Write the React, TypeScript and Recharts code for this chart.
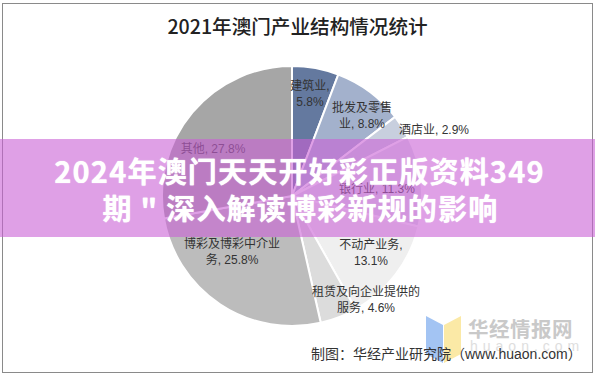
import { Cell, Pie, PieChart } from "recharts";

const INDUSTRIES = ["建筑业", "批发及零售业", "酒店业", "银行业", "不动产业务", "租赁及向企业提供的服务", "博彩及博彩中介业务", "其他"];
const SHARES = [5.8, 8.8, 2.9, 11.3, 13.1, 4.6, 25.8, 27.8];
const LABEL_LINES = [
  ["建筑业,", "5.8%"],
  ["批发及零售", "业, 8.8%"],
  ["酒店业, 2.9%"],
  ["银行业, 11.3%"],
  ["不动产业务,", "13.1%"],
  ["租赁及向企业提供的", "服务, 4.6%"],
  ["博彩及博彩中介业", "务, 25.8%"],
  ["其他, 27.8%"],
];

const COLORS = ["#64799f", "#a3b1cc", "#c8cfde", "#dfe2ea", "#efefef", "#dcdcdc", "#bcbcbc", "#a6a6a6"];
// label centres relative to the pie centre
const LABEL_OFFSETS = [
  [18, -110],
  [70, -88],
  [142, -66],
  [85, -7],
  [79, 49],
  [74, 96],
  [-60, 48],
  [-79, -47],
];

const CX = 292;
const CY = 196;
const FONT = '"Liberation Sans", "Noto Sans CJK SC", sans-serif';
const CJK = '"Noto Sans CJK SC", sans-serif';

const data = INDUSTRIES.map((name, i) => ({ name, value: SHARES[i] }));

function renderLabel(props: any) {
  const { index, cx, cy } = props;
  const [dx, dy] = LABEL_OFFSETS[index];
  const lines = LABEL_LINES[index];
  return (
    <text x={cx + dx} y={cy + dy} textAnchor="middle" fontFamily={FONT} fontSize={12} fill="#333">
      {lines.map((line, i) => (
        <tspan key={i} x={cx + dx} y={cy + dy + i * 15.5} dominantBaseline="central">
          {line}
        </tspan>
      ))}
    </text>
  );
}

export default function App() {
  return (
    <div style={{ position: "absolute", left: 0, top: 0, width: 595, height: 376, background: "#fff", overflow: "hidden" }}>
      <div style={{ position: "absolute", left: 2, top: 3, width: 589, height: 368, border: "1px solid #8a8a8a", boxSizing: "content-box" }} />
      <div style={{ position: "absolute", left: 0, top: 13, width: 595, textAlign: "center", fontFamily: CJK, fontWeight: 500, fontSize: 19.6, lineHeight: "26px", color: "#222" }}>
        2021年澳门产业结构情况统计
      </div>
      <div style={{ position: "absolute", left: 0, top: 0 }}>
        <PieChart width={595} height={376} margin={{ top: 0, right: 0, bottom: 0, left: 0 }}>
          <Pie
            data={data}
            dataKey="value"
            nameKey="name"
            cx={CX}
            cy={CY}
            outerRadius={130}
            startAngle={90}
            endAngle={-270}
            stroke="#fff"
            strokeWidth={2}
            label={renderLabel}
            labelLine={false}
            isAnimationActive={false}
          >
            {data.map((_, i) => (
              <Cell key={i} fill={COLORS[i]} />
            ))}
          </Pie>
        </PieChart>
      </div>
      <svg style={{ position: "absolute", left: 420, top: 310 }} width={60} height={60}>
        <polygon points="6,6 23,15 23,53 6,44" fill="#a3c4f3" />
        <polygon points="24,15 41,6 41,44 24,53" fill="#fbe9a6" />
      </svg>
      <div style={{ position: "absolute", left: 468, top: 314, fontFamily: CJK, fontWeight: 700, fontSize: 20.5, lineHeight: "28px", color: "#c9c9c9", letterSpacing: 0.5 }}>
        华经情报网
      </div>
      <div style={{ position: "absolute", left: 470, top: 338, fontFamily: FONT, fontSize: 14, lineHeight: "16px", color: "#dedede", letterSpacing: 5 }}>
        huaon.com
      </div>
      <div style={{ position: "absolute", left: 311, top: 345, whiteSpace: "nowrap", fontFamily: FONT, fontSize: 14, lineHeight: "18px", color: "#333" }}>
        制图：华经产业研究院（www.huaon.com）
      </div>
      <div style={{ position: "absolute", left: 0, top: 139, width: 595, height: 98, background: "rgba(202,97,213,0.6)" }} />
      <div style={{ position: "absolute", left: 2, top: 152, width: 595, textAlign: "center", fontFamily: CJK, fontWeight: 700, fontSize: 29, lineHeight: "37px", color: "#fff", letterSpacing: 1.2, textShadow: "0 0 1px #fff" }}>
        2024年澳门天天开好彩正版资料349
      </div>
      <div style={{ position: "absolute", left: 3, top: 189, width: 595, textAlign: "center", fontFamily: CJK, fontWeight: 700, fontSize: 29, lineHeight: "37px", color: "#fff", letterSpacing: 1.2, textShadow: "0 0 1px #fff" }}>
        期 " 深入解读博彩新规的影响
      </div>
    </div>
  );
}
